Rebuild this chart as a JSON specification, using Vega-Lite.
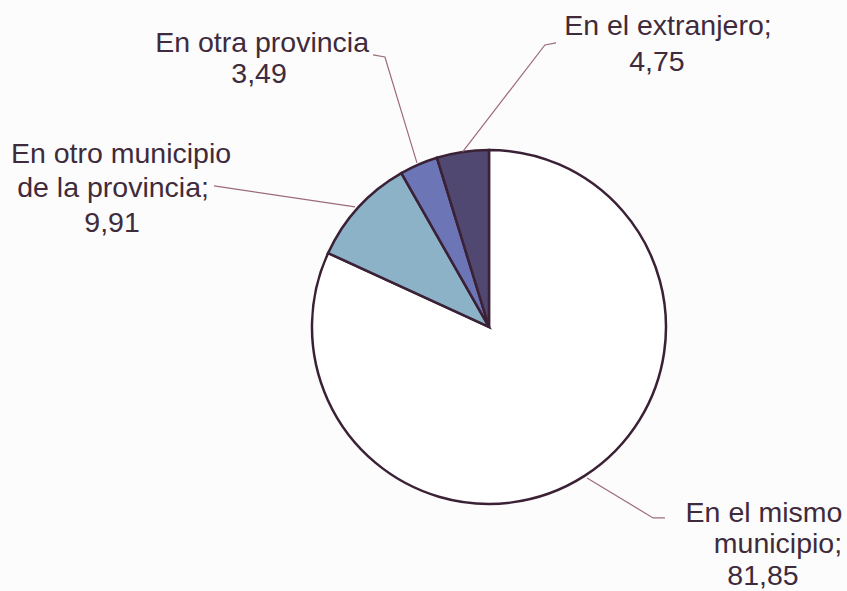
{
  "$schema": "https://vega.github.io/schema/vega-lite/v6.json",
  "width": 847,
  "height": 591,
  "padding": 0,
  "autosize": "none",
  "background": "#fcfcfc",
  "config": {"view": {"stroke": null}},
  "datasets": {
    "pie": [
      {"cat": "En el mismo municipio", "valor": 81.85, "orden": 1},
      {"cat": "En otro municipio de la provincia", "valor": 9.91, "orden": 2},
      {"cat": "En otra provincia", "valor": 3.49, "orden": 3},
      {"cat": "En el extranjero", "valor": 4.75, "orden": 4}
    ],
    "lineas": [
      {"id": "ext", "k": 1, "u": -0.149, "v": 0.989},
      {"id": "ext", "k": 2, "u": 0.316, "v": 1.593},
      {"id": "ext", "k": 3, "u": 0.379, "v": 1.605},
      {"id": "prov", "k": 1, "u": -0.407, "v": 0.927},
      {"id": "prov", "k": 2, "u": -0.588, "v": 1.525},
      {"id": "prov", "k": 3, "u": -0.655, "v": 1.537},
      {"id": "mun", "k": 1, "u": -0.757, "v": 0.678},
      {"id": "mun", "k": 2, "u": -1.554, "v": 0.797},
      {"id": "mismo", "k": 1, "u": 0.554, "v": -0.853},
      {"id": "mismo", "k": 2, "u": 0.927, "v": -1.079},
      {"id": "mismo", "k": 3, "u": 0.994, "v": -1.079}
    ],
    "etiquetas": [
      {"t": "En otra provincia", "u": -1.282, "v": 1.554},
      {"t": "3,49", "u": -1.299, "v": 1.379},
      {"t": "En el extranjero;", "u": 1.011, "v": 1.650},
      {"t": "4,75", "u": 0.949, "v": 1.446},
      {"t": "En otro municipio", "u": -2.079, "v": 0.927},
      {"t": "de la provincia;", "u": -2.124, "v": 0.734},
      {"t": "9,91", "u": -2.130, "v": 0.537},
      {"t": "En el mismo", "u": 1.554, "v": -1.102},
      {"t": "municipio;", "u": 1.633, "v": -1.277},
      {"t": "81,85", "u": 1.548, "v": -1.458}
    ]
  },
  "layer": [
    {
      "data": {"name": "pie"},
      "mark": {"type": "arc", "radius": 177, "stroke": "#3b2135", "strokeWidth": 2.5},
      "encoding": {
        "x": {"datum": 0, "type": "quantitative", "scale": {"domain": [-2.763, 2.023], "nice": false, "zero": false}, "axis": null},
        "y": {"datum": 0, "type": "quantitative", "scale": {"domain": [-1.492, 1.847], "nice": false, "zero": false}, "axis": null},
        "theta": {"field": "valor", "type": "quantitative", "stack": true},
        "order": {"field": "orden", "type": "quantitative"},
        "color": {
          "field": "cat", "type": "nominal", "legend": null,
          "scale": {
            "domain": ["En el mismo municipio", "En otro municipio de la provincia", "En otra provincia", "En el extranjero"],
            "range": ["#ffffff", "#8cb2c8", "#6c75b6", "#504870"]
          }
        }
      }
    },
    {
      "data": {"name": "lineas"},
      "mark": {"type": "line", "color": "#9d6a7c", "strokeWidth": 1.2},
      "encoding": {
        "x": {"field": "u", "type": "quantitative", "axis": null},
        "y": {"field": "v", "type": "quantitative", "axis": null},
        "detail": {"field": "id"},
        "order": {"field": "k", "type": "quantitative"}
      }
    },
    {
      "data": {"name": "etiquetas"},
      "mark": {"type": "text", "font": "Liberation Sans", "fontSize": 28.5, "align": "center", "baseline": "alphabetic", "color": "#3f2b3b"},
      "encoding": {
        "x": {"field": "u", "type": "quantitative", "axis": null},
        "y": {"field": "v", "type": "quantitative", "axis": null},
        "text": {"field": "t"}
      }
    }
  ]
}
